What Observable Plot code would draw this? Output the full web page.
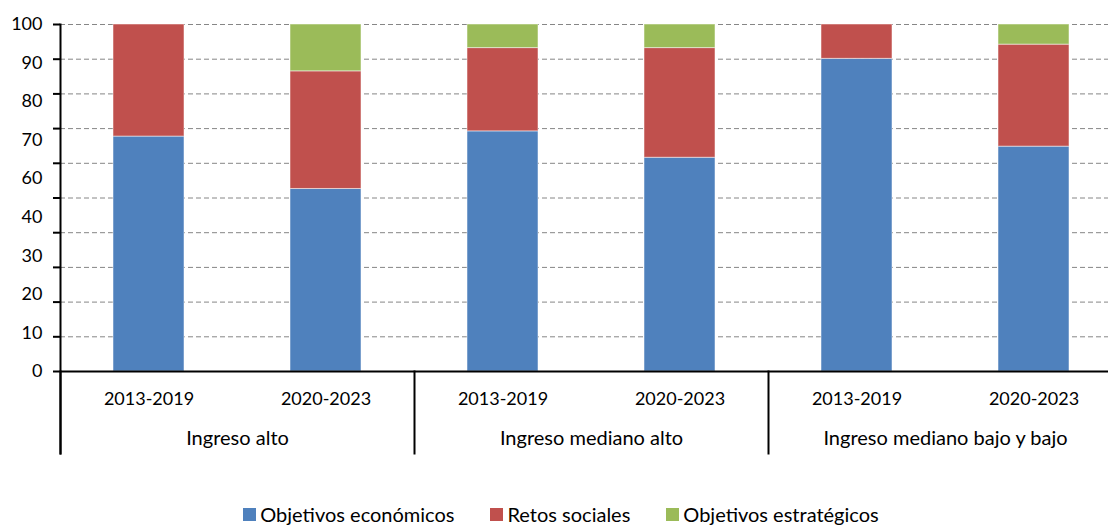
<!DOCTYPE html>
<html><head><meta charset="utf-8">
<script src="https://cdn.jsdelivr.net/npm/d3@7"></script>
<script src="https://cdn.jsdelivr.net/npm/@observablehq/plot@0.6"></script>
<style>
html,body{margin:0;padding:0;background:#fff;overflow:hidden;}
#chart{width:1122px;}
.legend{width:1122px;display:flex;justify-content:center;gap:36px;font:20px Lato, sans-serif;color:#000;margin-top:33px;line-height:22px;}
.legend span.item{display:inline-flex;align-items:center;}
.sw{display:inline-block;width:13px;height:13px;margin-right:4px;}
</style></head><body><div id="chart"></div><div class="legend" id="legend"></div>
<script>
const groups = ["Ingreso alto", "Ingreso mediano alto", "Ingreso mediano bajo y bajo"];
const periods = ["2013-2019", "2020-2023"];
const series = ["Objetivos económicos", "Retos sociales", "Objetivos estratégicos"];
const colors = ["#4F81BD", "#C0504D", "#9BBB59"];
// values in order: alto 13-19, alto 20-23, med-alto 13-19, med-alto 20-23, bajo 13-19, bajo 20-23
const economicos = [67.7, 52.6, 69.2, 61.6, 90.1, 64.8];
const sociales = [32.3, 33.9, 24.0, 31.6, 9.9, 29.4];
const estrategicos = [0, 13.5, 6.8, 6.8, 0, 5.8];
const gridTicks = [0, 10, 20, 30, 40, 50, 60, 70, 80, 90, 100];
const yLabels = ["0", "10", "20", "30", "40", "60", "70", "80", "90", "100"];

const values = [economicos, sociales, estrategicos];
const rows = [];
groups.forEach((g, gi) => periods.forEach((p, pi) => {
  const k = gi * periods.length + pi;
  series.forEach((s, si) => {
    if (values[si][k] > 0) rows.push({group: g, period: p, series: s, value: values[si][k]});
  });
}));

const labelPos = yLabels.map((_, i) => i * 100 / (yLabels.length - 1));
const labelAt = new Map(labelPos.map((p, i) => [p, yLabels[i]]));

const plot = Plot.plot({
  width: 1122, height: 470,
  marginLeft: 60, marginRight: 0, marginTop: 24, marginBottom: 99,
  style: {fontFamily: "Lato, sans-serif", fontSize: "20px", color: "#000", background: "#fff"},
  fx: {domain: groups, padding: 0},
  x: {domain: periods, paddingInner: 0.6, paddingOuter: 0.3},
  y: {domain: [0, 100]},
  color: {domain: series, range: colors},
  marks: [
    Plot.ruleY(gridTicks.filter(d => d > 0), {stroke: "#868686", strokeDasharray: "5,3", strokeWidth: 1}),
    Plot.barY(rows, Plot.stackY({fx: "group", x: "period", y: "value", fill: "series", order: series, stroke: "#fff", strokeOpacity: 0.5, strokeWidth: 1})),
    Plot.ruleY([0], {stroke: "#000", strokeWidth: 2}),
    Plot.frame({anchor: "left", facetAnchor: "left", stroke: "#000", strokeWidth: 2, insetBottom: -82}),
    Plot.frame({anchor: "left", stroke: "#000", strokeWidth: 2, insetTop: 347, insetBottom: -82}),
    Plot.axisY({ticks: gridTicks, tickSize: 7, tickFormat: () => "", stroke: "#000", strokeWidth: 2, label: null}),
    Plot.axisY({ticks: labelPos, tickSize: 0, tickPadding: 18, tickFormat: d => labelAt.get(d), label: null, fontSize: 18}),
    Plot.axisX({tickSize: 0, tickPadding: 21, label: null, fontSize: 18}),
    Plot.axisFx({anchor: "bottom", tickSize: 0, tickPadding: 59, label: null, fontSize: 20})
  ]
});
document.getElementById("chart").appendChild(plot);

const legend = document.getElementById("legend");
series.forEach((s, i) => {
  const item = document.createElement("span");
  item.className = "item";
  const sw = document.createElement("span");
  sw.className = "sw";
  sw.style.background = colors[i];
  item.appendChild(sw);
  item.appendChild(document.createTextNode(s));
  legend.appendChild(item);
});
</script></body></html>
